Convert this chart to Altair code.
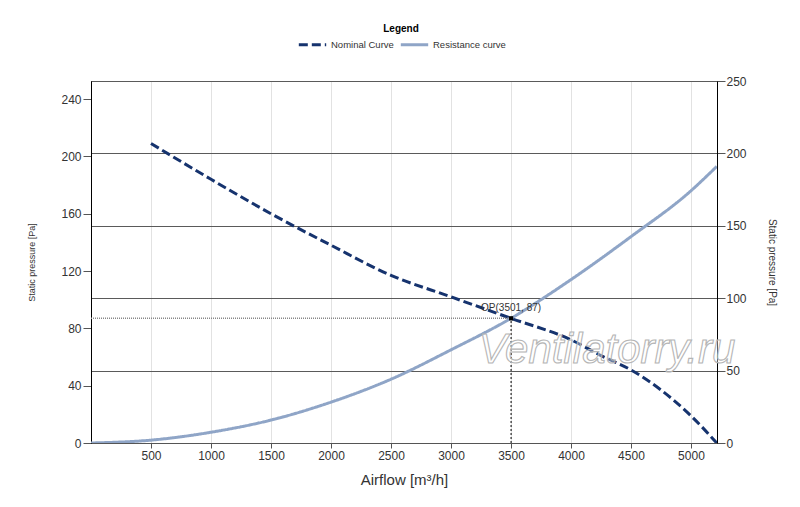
import altair as alt
import pandas as pd

# ---- data ----
series_names = ["Nominal Curve", "Resistance curve"]
airflow_nom = [500, 1000, 1500, 2000, 2500, 3000, 3500, 4000, 4250, 4500, 4750, 5000, 5215]
pressure_nom = [209, 184, 160, 138, 117, 102, 87, 72, 61, 51, 37, 19, 0]
airflow_res = [0, 500, 1000, 1500, 2000, 2500, 3000, 3500, 4000, 4500, 5000, 5215]
pressure_res = [0, 2, 7.5, 16, 28.5, 44.5, 65, 87, 114, 144, 176, 193]
op_airflow = [3501]
op_pressure = [87]
x_ticks = [500, 1000, 1500, 2000, 2500, 3000, 3500, 4000, 4500, 5000]
left_ticks = [0, 40, 80, 120, 160, 200, 240]
right_ticks = [0, 50, 100, 150, 200, 250]
watermark = ["Ventilatorry.ru"]

FONT = "Liberation Sans"

curves_df = pd.concat([
    pd.DataFrame({"airflow": airflow_nom, "pressure": pressure_nom, "series": series_names[0]}),
    pd.DataFrame({"airflow": airflow_res, "pressure": pressure_res, "series": series_names[1]}),
], ignore_index=True)

op_df = pd.DataFrame({
    "airflow": op_airflow, "pressure": op_pressure,
    "airflow0": [0] * len(op_airflow), "pressure0": [0] * len(op_airflow),
    "label": [f"OP({a}, {p})" for a, p in zip(op_airflow, op_pressure)],
})
right_df = pd.DataFrame({"r": right_ticks})
wm_df = pd.DataFrame({"t": watermark})

xs = alt.Scale(domain=[0, 5217], nice=False, zero=False)
ys = alt.Scale(domain=[0, 252.6], nice=False, zero=False)

x_axis = alt.Axis(values=x_ticks, format="d", title="Airflow [m³/h]", titleFontSize=15,
                  titleFontWeight="normal", titleColor="#333", titleFont=FONT, labelFont=FONT,
                  labelFontSize=12, labelColor="#333", tickColor="#555", tickSize=5,
                  domainColor="#555", gridColor="#e2e2e2", labelPadding=2, titlePadding=11,
                  labelFlush=False)
y_axis = alt.Axis(values=left_ticks, orient="left", title="Static pressure [Pa]", titleFontSize=9,
                  titleFontWeight="normal", titleColor="#333", titleFont=FONT, labelFont=FONT,
                  labelFontSize=12, labelColor="#333", tickColor="#555", tickSize=8,
                  domainColor="#000", gridColor="#e6e6e6", gridWidth=1.5, labelPadding=2,
                  titlePadding=24)

legend = alt.Legend(title="Legend", orient="none", legendX=206, legendY=-57, direction="horizontal",
                    titleOrient="top", titleAnchor="middle", titleFont=FONT, titleFontSize=10,
                    titleFontWeight="bold", titleColor="#000", titlePadding=-5,
                    labelFont=FONT, labelFontSize=9.5, labelColor="#333", labelOffset=3,
                    symbolType="stroke", symbolStrokeWidth=3, symbolSize=750, columnPadding=0)

color_scale = alt.Scale(domain=series_names, range=["#16336e", "#8fa5c7"])
dash_scale = alt.Scale(domain=series_names, range=[[9, 4], [1, 0]])

curves = alt.Chart(curves_df).mark_line(strokeWidth=3, interpolate="monotone", clip=True).encode(
    x=alt.X("airflow:Q", scale=xs, axis=x_axis),
    y=alt.Y("pressure:Q", scale=ys, axis=y_axis),
    color=alt.Color("series:N", scale=color_scale, legend=legend),
    strokeDash=alt.StrokeDash("series:N", scale=dash_scale, legend=legend),
)

h_rule = alt.Chart(op_df).mark_rule(color="#888", strokeWidth=1.5, strokeDash=[1, 1]).encode(
    x="airflow0:Q", x2="airflow:Q", y="pressure:Q")
v_rule = alt.Chart(op_df).mark_rule(color="#000", strokeWidth=1, strokeDash=[2, 2]).encode(
    x="airflow:Q", y="pressure0:Q", y2="pressure:Q")
op_pt = alt.Chart(op_df).mark_square(color="#000", size=18, opacity=1).encode(
    x="airflow:Q", y="pressure:Q")
op_txt = alt.Chart(op_df).mark_text(font=FONT, fontSize=10, color="#333", dy=-10, align="center",
                                    baseline="middle").encode(
    x="airflow:Q", y="pressure:Q", text="label:N")

wm = alt.Chart(wm_df).mark_text(font=FONT, fontSize=42, fontStyle="italic", fill="#ffffff",
                                fillOpacity=0.4, stroke="#b5b5b5", strokeWidth=1.1, align="center",
                                baseline="alphabetic", clip=False).encode(
    x=alt.value(516), y=alt.value(282), text="t:N")

left_layer = alt.layer(curves, h_rule, v_rule, op_pt, op_txt, wm)

right = alt.Chart(right_df).mark_rule(opacity=0).encode(
    y=alt.Y("r:Q", scale=alt.Scale(domain=[0, 250], nice=False, zero=False),
            axis=alt.Axis(orient="right", values=right_ticks, title="Static pressure [Pa]",
                          titleFontSize=10, titleFontWeight="normal", titleColor="#333",
                          titleFont=FONT, labelFont=FONT, labelFontSize=12, labelColor="#333",
                          tickColor="#555", tickSize=8, domainColor="#000", grid=True,
                          gridColor="#5a5a5a", gridWidth=1, labelPadding=1, titlePadding=20,
                          titleAngle=90)))

chart = alt.layer(right, left_layer).resolve_scale(
    y="independent"
).properties(
    width=626, height=362,
    autosize=alt.AutoSizeParams(type="none"),
    padding={"left": 83, "top": 73, "right": 75, "bottom": 56},
    background="#ffffff",
).configure_view(stroke="#000", strokeWidth=1)

chart.save("out.html", embed_options={"renderer": "svg", "actions": False})
